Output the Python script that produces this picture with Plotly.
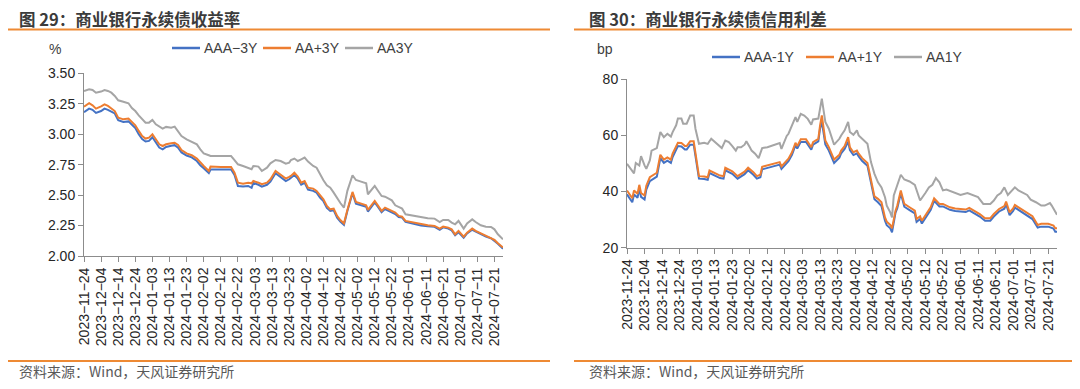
import plotly.graph_objects as go

# ---------------- data: 图29 商业银行永续债收益率 (%) ----------------
dates_yield = [
    "2023-11-24", "2023-11-27", "2023-11-29", "2023-12-01", "2023-12-04", "2023-12-06", "2023-12-08",
    "2023-12-10", "2023-12-12", "2023-12-14", "2023-12-17", "2023-12-20", "2023-12-22", "2023-12-24",
    "2023-12-26", "2023-12-28", "2023-12-30", "2024-01-01", "2024-01-03", "2024-01-05", "2024-01-07",
    "2024-01-09", "2024-01-11", "2024-01-14", "2024-01-16", "2024-01-18", "2024-01-20", "2024-01-23",
    "2024-01-26", "2024-01-29", "2024-01-31", "2024-02-02", "2024-02-05", "2024-02-06", "2024-02-12",
    "2024-02-18", "2024-02-20", "2024-02-22", "2024-02-25", "2024-02-28", "2024-03-01", "2024-03-02",
    "2024-03-05", "2024-03-07", "2024-03-10", "2024-03-12", "2024-03-15", "2024-03-18", "2024-03-21",
    "2024-03-23", "2024-03-24", "2024-03-26", "2024-03-28", "2024-03-30", "2024-04-01", "2024-04-03",
    "2024-04-06", "2024-04-08", "2024-04-10", "2024-04-12", "2024-04-14", "2024-04-16", "2024-04-18",
    "2024-04-20", "2024-04-22", "2024-04-24", "2024-04-26", "2024-04-29", "2024-05-01", "2024-05-04",
    "2024-05-07", "2024-05-08", "2024-05-10", "2024-05-12", "2024-05-14", "2024-05-16", "2024-05-18",
    "2024-05-20", "2024-05-22", "2024-05-24", "2024-05-26", "2024-05-28", "2024-05-30", "2024-06-02",
    "2024-06-05", "2024-06-08", "2024-06-12", "2024-06-16", "2024-06-19", "2024-06-21", "2024-06-24",
    "2024-06-26", "2024-06-28", "2024-06-30", "2024-07-03", "2024-07-05", "2024-07-08", "2024-07-10",
    "2024-07-13", "2024-07-16", "2024-07-19", "2024-07-21", "2024-07-23", "2024-07-26",
]
aaa_3y = [
    3.18, 3.21, 3.20, 3.175, 3.19, 3.21, 3.20,
    3.185, 3.17, 3.115, 3.10, 3.105, 3.08, 3.05,
    3.00, 2.96, 2.94, 2.945, 2.975, 2.935, 2.89,
    2.875, 2.895, 2.905, 2.91, 2.89, 2.85, 2.825,
    2.81, 2.78, 2.745, 2.72, 2.68, 2.71, 2.71,
    2.71, 2.665, 2.575, 2.57, 2.575, 2.56, 2.60,
    2.585, 2.57, 2.585, 2.61, 2.68, 2.645, 2.615,
    2.63, 2.64, 2.665, 2.635, 2.585, 2.60, 2.545,
    2.535, 2.52, 2.48, 2.45, 2.395, 2.37, 2.375,
    2.315, 2.28, 2.255, 2.37, 2.515, 2.43, 2.42,
    2.405, 2.365, 2.40, 2.44, 2.40, 2.36, 2.385,
    2.37, 2.36, 2.345, 2.32, 2.315, 2.28, 2.27,
    2.26, 2.25, 2.245, 2.24, 2.215, 2.235, 2.225,
    2.21, 2.17, 2.195, 2.15, 2.185, 2.215, 2.20,
    2.18, 2.16, 2.145, 2.125, 2.10, 2.06,
]
aap_3y = [
    3.226, 3.254, 3.237, 3.21, 3.229, 3.245, 3.232,
    3.21, 3.19, 3.136, 3.122, 3.128, 3.10, 3.073,
    3.027, 2.985, 2.964, 2.972, 3.00, 2.958, 2.917,
    2.903, 2.917, 2.925, 2.93, 2.912, 2.87, 2.843,
    2.827, 2.80, 2.767, 2.739, 2.698, 2.734, 2.731,
    2.731, 2.684, 2.602, 2.594, 2.602, 2.597, 2.616,
    2.602, 2.589, 2.602, 2.63, 2.698, 2.663, 2.635,
    2.649, 2.657, 2.684, 2.652, 2.602, 2.616, 2.561,
    2.553, 2.534, 2.498, 2.466, 2.411, 2.383, 2.389,
    2.329, 2.293, 2.268, 2.378, 2.526, 2.444, 2.433,
    2.416, 2.378, 2.411, 2.452, 2.411, 2.37, 2.397,
    2.383, 2.37, 2.356, 2.329, 2.323, 2.288, 2.279,
    2.268, 2.26, 2.252, 2.247, 2.225, 2.241, 2.233,
    2.219, 2.178, 2.206, 2.159, 2.192, 2.225, 2.206,
    2.186, 2.17, 2.151, 2.132, 2.104, 2.069,
]
aa_3y = [
    3.355, 3.369, 3.363, 3.341, 3.35, 3.363, 3.355,
    3.341, 3.314, 3.278, 3.267, 3.254, 3.215, 3.19,
    3.155, 3.128, 3.095, 3.095, 3.117, 3.081, 3.06,
    3.046, 3.06, 3.054, 3.062, 3.027, 2.985, 2.958,
    2.936, 2.917, 2.876, 2.843, 2.827, 2.821, 2.821,
    2.821, 2.788, 2.753, 2.739, 2.725, 2.712, 2.739,
    2.734, 2.698, 2.725, 2.761, 2.788, 2.78, 2.758,
    2.767, 2.788, 2.80, 2.78, 2.794, 2.808, 2.775,
    2.739, 2.725, 2.671, 2.622, 2.58, 2.561, 2.52,
    2.471, 2.433, 2.397, 2.535, 2.663, 2.624, 2.611,
    2.597, 2.507, 2.542, 2.575, 2.534, 2.493, 2.487,
    2.471, 2.457, 2.416, 2.403, 2.389, 2.342, 2.334,
    2.323, 2.315, 2.31, 2.307, 2.279, 2.296, 2.296,
    2.274, 2.26, 2.288, 2.225, 2.268, 2.301, 2.279,
    2.252, 2.241, 2.238, 2.219, 2.178, 2.137,
]

# ---------------- data: 图30 商业银行永续债信用利差 (bp) ----------------
dates_spread = [
    "2023-11-24", "2023-11-27", "2023-11-28", "2023-11-30", "2023-12-01", "2023-12-02", "2023-12-04",
    "2023-12-05", "2023-12-07", "2023-12-10", "2023-12-11", "2023-12-13", "2023-12-15", "2023-12-17",
    "2023-12-19", "2023-12-20", "2023-12-23", "2023-12-25", "2023-12-27", "2023-12-28", "2023-12-30",
    "2024-01-01", "2024-01-02", "2024-01-04", "2024-01-07", "2024-01-09", "2024-01-10", "2024-01-12",
    "2024-01-14", "2024-01-16", "2024-01-18", "2024-01-19", "2024-01-23", "2024-01-26", "2024-01-28",
    "2024-01-30", "2024-02-01", "2024-02-03", "2024-02-04", "2024-02-06", "2024-02-08", "2024-02-09",
    "2024-02-13", "2024-02-19", "2024-02-20", "2024-02-23", "2024-02-24", "2024-02-26", "2024-02-28",
    "2024-02-29", "2024-03-02", "2024-03-05", "2024-03-06", "2024-03-08", "2024-03-09", "2024-03-12",
    "2024-03-13", "2024-03-14", "2024-03-16", "2024-03-18", "2024-03-21", "2024-03-24", "2024-03-25",
    "2024-03-27", "2024-03-29", "2024-03-30", "2024-04-01", "2024-04-03", "2024-04-04", "2024-04-06",
    "2024-04-09", "2024-04-11", "2024-04-13", "2024-04-15", "2024-04-17", "2024-04-19", "2024-04-20",
    "2024-04-22", "2024-04-23", "2024-04-25", "2024-04-26", "2024-04-28", "2024-04-30", "2024-05-03",
    "2024-05-06", "2024-05-07", "2024-05-09", "2024-05-10", "2024-05-12", "2024-05-15", "2024-05-17",
    "2024-05-20", "2024-05-22", "2024-05-24", "2024-05-26", "2024-05-29", "2024-06-01", "2024-06-04",
    "2024-06-06", "2024-06-09", "2024-06-12", "2024-06-15", "2024-06-18", "2024-06-20", "2024-06-23",
    "2024-06-26", "2024-06-27", "2024-06-29", "2024-07-01", "2024-07-02", "2024-07-05", "2024-07-08",
    "2024-07-10", "2024-07-12", "2024-07-15", "2024-07-17", "2024-07-21", "2024-07-24", "2024-07-25",
    "2024-07-26",
]
aaa_1y = [
    39.0, 36.2, 39.0, 37.8, 41.0, 38.1, 37.2,
    40.7, 43.7, 44.9, 45.3, 51.9, 50.2, 51.0,
    50.2, 52.3, 56.2, 56.1, 55.0, 55.0, 56.7,
    56.7, 53.1, 44.6, 44.5, 44.2, 46.6, 46.1,
    45.4, 44.8, 44.6, 47.6, 46.3, 44.6, 45.4,
    46.2, 47.6, 46.6, 46.0, 44.6, 45.1, 47.9,
    48.6, 49.6, 48.1, 50.2, 50.8, 53.1, 56.5,
    55.3, 57.7, 57.7, 56.7, 54.9, 56.7, 57.9,
    62.4, 65.0, 56.8, 54.6, 50.2, 52.1, 53.6,
    55.2, 57.8, 54.8, 53.0, 53.6, 52.5, 50.9,
    49.2, 43.6, 37.3, 36.2, 34.8, 29.6, 28.0,
    26.9, 25.5, 32.5, 34.1, 39.4, 34.6, 33.4,
    32.2, 29.2, 30.2, 28.6, 30.4, 33.4, 36.7,
    34.7, 34.7, 34.1, 33.5, 33.1, 32.9, 32.7,
    33.3, 32.3, 31.1, 29.6, 29.6, 31.1, 32.9,
    33.9, 35.5, 31.6, 33.1, 34.3, 33.1, 32.0,
    31.1, 30.2, 27.2, 27.5, 27.5, 26.8, 25.7,
    25.7,
]
aap_1y = [
    40.4, 37.6, 40.4, 39.2, 42.4, 39.5, 38.6,
    42.1, 45.1, 46.3, 46.7, 53.1, 51.4, 52.2,
    51.4, 53.5, 57.4, 57.3, 56.2, 56.2, 57.9,
    57.9, 54.0, 45.5, 45.4, 45.1, 47.5, 47.0,
    46.3, 45.7, 45.5, 48.5, 47.2, 45.5, 46.3,
    47.1, 48.5, 47.5, 46.9, 45.5, 46.0, 48.8,
    49.5, 50.5, 49.0, 51.1, 51.7, 54.0, 57.4,
    56.2, 58.6, 58.6, 57.6, 55.8, 57.6, 58.8,
    63.6, 67.1, 58.2, 55.8, 51.4, 53.1, 54.6,
    56.2, 59.4, 55.8, 54.0, 54.6, 53.5, 51.9,
    50.2, 44.8, 38.3, 37.4, 36.2, 30.8, 29.3,
    28.1, 26.9, 33.2, 35.0, 40.4, 35.6, 34.4,
    33.2, 30.2, 31.2, 29.6, 31.4, 34.4, 37.6,
    35.6, 35.6, 35.0, 34.4, 34.0, 33.8, 33.6,
    34.2, 33.2, 32.0, 30.5, 30.5, 32.0, 33.8,
    34.8, 36.4, 32.6, 34.0, 35.2, 34.0, 32.9,
    32.0, 31.2, 28.1, 28.5, 28.5, 27.9, 26.9,
    26.9,
]
dates_spread_aa = [
    "2023-11-24", "2023-11-26", "2023-11-28", "2023-11-29", "2023-12-01", "2023-12-02", "2023-12-03",
    "2023-12-04", "2023-12-05", "2023-12-07", "2023-12-08", "2023-12-11", "2023-12-13", "2023-12-15",
    "2023-12-17", "2023-12-19", "2023-12-20", "2023-12-22", "2023-12-23", "2023-12-25", "2023-12-26",
    "2023-12-28", "2023-12-30", "2024-01-01", "2024-01-02", "2024-01-04", "2024-01-07", "2024-01-09",
    "2024-01-11", "2024-01-13", "2024-01-15", "2024-01-17", "2024-01-19", "2024-01-21", "2024-01-23",
    "2024-01-25", "2024-01-26", "2024-01-28", "2024-01-30", "2024-01-31", "2024-02-02", "2024-02-03",
    "2024-02-05", "2024-02-07", "2024-02-09", "2024-02-12", "2024-02-19", "2024-02-20", "2024-02-23",
    "2024-02-24", "2024-02-26", "2024-02-28", "2024-02-29", "2024-03-02", "2024-03-04", "2024-03-06",
    "2024-03-08", "2024-03-09", "2024-03-12", "2024-03-13", "2024-03-14", "2024-03-16", "2024-03-18",
    "2024-03-21", "2024-03-24", "2024-03-25", "2024-03-27", "2024-03-29", "2024-03-30", "2024-04-01",
    "2024-04-03", "2024-04-04", "2024-04-06", "2024-04-09", "2024-04-11", "2024-04-13", "2024-04-15",
    "2024-04-17", "2024-04-19", "2024-04-20", "2024-04-22", "2024-04-23", "2024-04-24", "2024-04-26",
    "2024-04-28", "2024-04-30", "2024-05-03", "2024-05-06", "2024-05-08", "2024-05-09", "2024-05-12",
    "2024-05-14", "2024-05-16", "2024-05-18", "2024-05-20", "2024-05-22", "2024-05-24", "2024-05-27",
    "2024-05-29", "2024-06-01", "2024-06-05", "2024-06-08", "2024-06-11", "2024-06-14", "2024-06-18",
    "2024-06-20", "2024-06-22", "2024-06-24", "2024-06-26", "2024-06-28", "2024-06-30", "2024-07-02",
    "2024-07-04", "2024-07-07", "2024-07-09", "2024-07-11", "2024-07-14", "2024-07-17", "2024-07-19",
    "2024-07-22", "2024-07-23", "2024-07-26",
]
aa_1y = [
    49.9, 48.1, 46.5, 50.2, 49.3, 52.6, 50.5,
    49.3, 48.1, 51.1, 54.6, 55.5, 61.2, 59.4,
    60.6, 59.6, 61.2, 63.6, 66.0, 66.0, 64.2,
    64.2, 67.1, 67.1, 62.4, 57.0, 57.4, 57.0,
    58.8, 57.6, 56.7, 55.5, 58.2, 57.6, 56.2,
    54.6, 55.8, 55.8, 56.7, 57.9, 55.8, 54.6,
    53.5, 51.9, 55.5, 55.8, 57.3, 55.2, 59.8,
    60.6, 63.6, 66.5, 64.8, 67.7, 67.1, 65.9,
    63.8, 65.7, 66.0, 69.3, 73.1, 64.8, 62.4,
    56.7, 58.8, 60.0, 61.8, 64.8, 61.2, 60.2,
    61.8, 60.0, 58.8, 57.0, 50.5, 46.3, 43.3,
    41.5, 38.0, 35.0, 32.6, 30.8, 38.6, 42.1,
    46.0, 44.3, 43.6, 42.4, 38.6, 36.8, 39.5,
    41.5, 42.4, 44.8, 43.3, 40.4, 40.7, 40.0,
    39.5, 38.8, 39.5, 38.8, 38.0, 35.6, 35.6,
    36.8, 38.6, 39.5, 41.5, 38.8, 40.0, 41.5,
    40.4, 39.5, 38.8, 37.1, 36.2, 35.0, 35.0,
    35.9, 35.0, 31.7,
]

assert len(dates_yield) == len(aaa_3y) == len(aap_3y) == len(aa_3y)
assert len(dates_spread) == len(aaa_1y) == len(aap_1y)
assert len(dates_spread_aa) == len(aa_1y)

x_range = ["2023-11-24", "2024-07-26"]
tick_start = "2023-11-24"

# ---------------- styling ----------------
# The page body keeps an 8px default margin, so the figure is sized to fill the
# remaining 1064x373 area and positions below are given in window pixels.
OFF = 8
W, H = 1080 - 2 * OFF, 389 - 2 * OFF
BLUE, ORANGE, GRAY = "#4472C4", "#ED7D31", "#A5A5A5"
ACCENT = "#EE8A34"
CJK = "Noto Sans CJK SC, Microsoft YaHei, sans-serif"
LAT = "Liberation Sans, Arial, sans-serif"
AXC = "#8c8c8c"


def fx(p):
    return (p - OFF) / W


def fy(p):
    return 1 - (p - OFF) / H


fig = go.Figure()

# series: name, x, y, colour, axes, legend-key position (window px: line start, y)
series = [
    ("AAA−3Y", dates_yield, aaa_3y, BLUE, "x", "y", 172, 48),
    ("AA+3Y", dates_yield, aap_3y, ORANGE, "x", "y", 263, 48),
    ("AA3Y", dates_yield, aa_3y, GRAY, "x", "y", 345, 48),
    ("AAA-1Y", dates_spread, aaa_1y, BLUE, "x2", "y2", 712, 57),
    ("AA+1Y", dates_spread, aap_1y, ORANGE, "x2", "y2", 806, 57),
    ("AA1Y", dates_spread_aa, aa_1y, GRAY, "x2", "y2", 894, 57),
]
for name, xs, ys, col, xa, ya, lx, ly in series:
    fig.add_trace(go.Scatter(
        x=xs, y=ys, name=name, mode="lines",
        line=dict(color=col, width=2),
        xaxis=xa, yaxis=ya, showlegend=False, hoverinfo="skip",
    ))
    # legend key
    fig.add_shape(type="line", xref="paper", yref="paper",
                  x0=fx(lx), x1=fx(lx + 28), y0=fy(ly), y1=fy(ly),
                  line=dict(color=col, width=2.5))
    fig.add_annotation(text=name, x=fx(lx + 30), y=fy(ly), xref="paper", yref="paper",
                       xanchor="left", yanchor="middle", showarrow=False,
                       font=dict(family=LAT, size=14, color="#404040"))

xaxis_common = dict(
    type="date", range=x_range, tick0=tick_start, dtick=10 * 86400000,
    tickangle=-90, ticks="outside", ticklen=5, tickcolor=AXC, tickwidth=1,
    showline=True, linecolor=AXC, linewidth=1, showgrid=False, zeroline=False,
    automargin=False, tickfont=dict(family=LAT, size=14, color="#262626"),
)
yaxis_common = dict(
    ticks="outside", ticklen=5, tickcolor=AXC, tickwidth=1,
    showline=True, linecolor=AXC, linewidth=1, showgrid=False, zeroline=False,
    automargin=False, tickfont=dict(family=LAT, size=14, color="#262626"),
)

fig.update_layout(
    width=W, height=H, margin=dict(l=0, r=0, t=0, b=0, autoexpand=False),
    paper_bgcolor="white", plot_bgcolor="white", showlegend=False,
    xaxis=dict(domain=[fx(84), fx(503)], anchor="y", tickformat="%Y−%m−%d", **xaxis_common),
    yaxis=dict(domain=[fy(256), fy(73.3)], anchor="x", range=[2.0, 3.5], dtick=0.25,
               tickformat=".2f", **yaxis_common),
    xaxis2=dict(domain=[fx(627), fx(1057)], anchor="y2", tickformat="%Y-%m-%d", **xaxis_common),
    yaxis2=dict(domain=[fy(247.7), fy(79.3)], anchor="x2", range=[20, 80], dtick=20,
                **yaxis_common),
)

# titles, units and sources
texts = [
    ("图 29：商业银行永续债收益率", 17, 19, 16.5, "#3b3b3b", True, CJK),
    ("图 30：商业银行永续债信用利差", 587, 19, 16.5, "#3b3b3b", True, CJK),
    ("%", 47, 49, 14, "#404040", False, LAT),
    ("bp", 595, 49, 14, "#404040", False, LAT),
    ("资料来源：Wind，天风证券研究所", 17, 371, 14, "#595959", False, CJK),
    ("资料来源：Wind，天风证券研究所", 587, 371, 14, "#595959", False, CJK),
]
for t, x, y, s, c, b, fam in texts:
    fig.add_annotation(
        text=f"<b>{t}</b>" if b else t, x=fx(x), y=fy(y), xref="paper", yref="paper",
        xanchor="left", yanchor="middle", showarrow=False,
        font=dict(family=fam, size=s, color=c),
    )

for x0, x1, y in [(8, 550, 29.5), (574, 1072, 29.5), (8, 550, 361), (574, 1072, 361)]:
    fig.add_shape(type="line", xref="paper", yref="paper",
                  x0=fx(x0), x1=fx(x1), y0=fy(y), y1=fy(y),
                  line=dict(color=ACCENT, width=2))

fig.write_html("out.html", config={"displayModeBar": False})
